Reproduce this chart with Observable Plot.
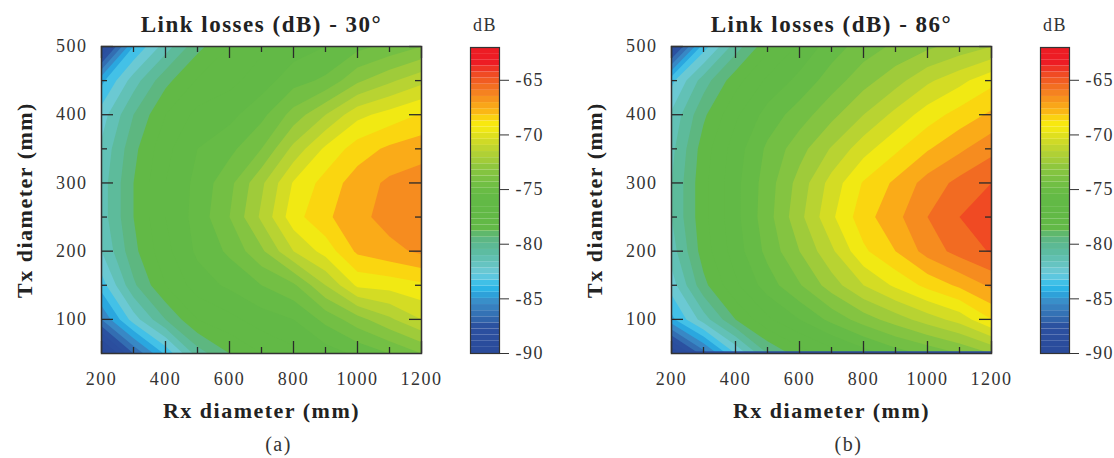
<!DOCTYPE html>
<html><head><meta charset="utf-8">
<script src="https://cdn.jsdelivr.net/npm/d3@7"></script>
<script src="https://cdn.jsdelivr.net/npm/@observablehq/plot@0.6"></script>
<style>
body{margin:0;background:#fff;}
#root{position:relative;width:1114px;height:458px;overflow:hidden;background:#fff;}
#root svg{position:absolute;top:0;overflow:visible;}
</style></head><body><div id="root"></div>
<script>
// Grid axes
const rx = [200, 300, 400, 500, 600, 700, 800, 900, 1000, 1100, 1200];   // Rx diameter (mm)
const tx = [50, 100, 150, 200, 250, 300, 350, 400, 450, 500];            // Tx diameter (mm)

// Link losses (dB), one list per Rx diameter, Tx from 50 to 500 mm — panel (a) 30°
const lossA = [
  [-91, -86, -83.5, -82, -81.5, -81.5, -81.8, -82.5, -84.3, -89.5],
  [-87, -82.5, -80.2, -79.3, -79, -79, -79.3, -80, -81.5, -84],
  [-83.8, -80, -78, -77.3, -77, -77, -77.3, -78, -79.3, -81.5],
  [-80.5, -78, -76.5, -75.8, -75.6, -75.7, -76, -76.7, -77.9, -79.3],
  [-79, -77.3, -75.8, -74.8, -74, -74.3, -75.3, -76.3, -77.3, -78],
  [-78, -76.5, -75, -73.2, -71.8, -72.2, -74, -75.3, -76.5, -77.2],
  [-77.3, -76, -74.2, -71, -69.4, -69.9, -71.7, -73.6, -75.4, -76.5],
  [-76.5, -74.7, -72, -69.6, -68.2, -68.6, -69.8, -72, -74.8, -76],
  [-75.8, -73.4, -69.8, -67.8, -67.3, -67.5, -68.5, -70.3, -73.2, -75.3],
  [-75, -72.2, -69.6, -67.3, -66.6, -66.8, -67.8, -69.6, -72.2, -74.7],
  [-74, -71, -69.2, -66.8, -66.2, -66.5, -67.4, -68.9, -71.3, -74]
];
// panel (b) 86°
const lossB = [
  [-90, -84.3, -82.5, -81.5, -81, -81, -81.3, -81.8, -83.3, -89],
  [-86.5, -81.5, -79.3, -78.5, -78.3, -78.3, -78.5, -79.2, -80.5, -83.5],
  [-83, -79, -77.2, -76.5, -76.3, -76.3, -76.5, -77.2, -78.4, -80.5],
  [-80, -77.2, -75.5, -74.7, -74.4, -74.5, -74.8, -75.6, -76.8, -78.3],
  [-78.5, -76, -74.1, -73, -72.3, -72.6, -73.4, -74.5, -75.7, -76.8],
  [-77.5, -74.7, -72.5, -71.2, -70.2, -70.6, -71.9, -73.3, -74.5, -75.5],
  [-76.5, -73.5, -71, -69.2, -68.4, -68.9, -70.4, -72, -73.4, -74.5],
  [-75.5, -72.5, -69.8, -68, -67.3, -67.8, -69.2, -70.7, -72.4, -73.8],
  [-74.8, -71.5, -68.7, -66.6, -66, -66.6, -68.1, -69.5, -71.2, -73.2],
  [-74, -70.6, -67.8, -65.6, -65, -65.7, -67.2, -68.6, -70.3, -72.6],
  [-73, -69, -66.8, -64.9, -64.3, -65, -66.3, -67.8, -69.3, -72]
];

const titles = ["Link losses (dB) - 30°", "Link losses (dB) - 86°"];
const captions = ["(a)", "(b)"];
const xLabel = "Rx diameter (mm)";
const yLabel = "Tx diameter (mm)";
const cbLabel = "dB";

// tick labels
const xTickLabels = [200, 400, 600, 800, 1000, 1200];
const xMinorTicks = [300, 500, 700, 900, 1100];
const yTickLabels = [100, 200, 300, 400, 500];
const yMinorTicks = [150, 250, 350, 450];
const cbTicks = [-90, -85, -80, -75, -70, -65];
const cbDomain = [-90, -62];

// colour map (dB -> colour)
const stopVals = [-90, -87.5, -86.9, -86.3, -85.7, -85.1, -84.5, -83.9, -83.3, -82.7, -82.1, -81.5, -80.8, -80.0, -79.3, -78.5,
  -76.0, -75.0, -74.0, -73.0, -72.5, -71.7, -71.1, -70.5, -69.9, -69.3, -68.7, -68.2, -67.6, -67.0, -66.4, -65.8, -65.2, -64.6, -64.0, -63.4, -62];
const stopColors = ["#2a4a9a", "#2b51a0", "#3065ab", "#3473b6", "#3783c1", "#3992cc", "#2aa7df", "#2dbbea", "#4ec4e5", "#6ccad9", "#68c6c8", "#62c1b6", "#5dbca2", "#5cb88f", "#5eb77a", "#62b946",
  "#62b946", "#6abd45", "#7bc142", "#8cc63f", "#9fcb3a", "#b2d134", "#c3d62d", "#d4dc24", "#e6e21b", "#f7ec0f", "#f8e30f", "#fcc212", "#faae17", "#f89c1c", "#f6891f", "#f37521", "#f16022", "#f04e23", "#ee3524", "#ed1c24", "#ed1c24"];

// colour bar: colour at each value
const cbColor = {type: "linear", domain: stopVals, range: stopColors, interpolate: "rgb", clamp: true};
// contour bands are filled by their lower threshold: show the colour of the band's middle
const contourStep = 1;
const contourColor = {...cbColor, domain: stopVals.map(v => v - contourStep / 2)};
const thresholds = d3.range(-93, -61, contourStep);
const cbBands = d3.range(50).map(i => {
  const step = (cbDomain[1] - cbDomain[0]) / 50;
  const lo = cbDomain[0] + i * step, hi = lo + step;
  return {lo, hi, mid: (lo + hi) / 2};
});

const STYLE = "font-family:'Liberation Serif',serif;font-size:18px;letter-spacing:1.5px;color:#222;background:transparent;";
const ML = 101, MR = 19, MT = 46, MB = 105, PW = 440, PH = 458;
const FW = PW - ML - MR, FH = PH - MT - MB;
const tickStyle = {stroke: "#2a2a2a", strokeWidth: 1.3};

function panel(cols, title, caption, bottomLine) {
  const values = [];
  tx.forEach((t, j) => rx.forEach((r, i) => values.push(cols[i][j])));
  const dx = rx[1] - rx[0], dy = tx[1] - tx[0];
  const marks = [
    Plot.contour(values, {
      width: rx.length, height: tx.length,
      x1: rx[0] - dx / 2, x2: rx[rx.length - 1] + dx / 2,
      y1: tx[0] - dy / 2, y2: tx[tx.length - 1] + dy / 2,
      fill: Plot.identity, thresholds, clip: true
    })
  ];
  if (bottomLine) marks.push(Plot.ruleY([tx[0]], {stroke: "#2b4c9e", strokeWidth: 2.5, dy: -1}));
  marks.push(
    Plot.tickX(xTickLabels, {x: d => d, insetTop: FH - 12, ...tickStyle}),
    Plot.tickX(xTickLabels, {x: d => d, insetBottom: FH - 12, ...tickStyle}),
    Plot.tickX(xMinorTicks, {x: d => d, insetTop: FH - 6, ...tickStyle}),
    Plot.tickX(xMinorTicks, {x: d => d, insetBottom: FH - 6, ...tickStyle}),
    Plot.tickY(yTickLabels, {y: d => d, insetRight: FW - 12, ...tickStyle}),
    Plot.tickY(yTickLabels, {y: d => d, insetLeft: FW - 12, ...tickStyle}),
    Plot.tickY(yMinorTicks, {y: d => d, insetRight: FW - 6, ...tickStyle}),
    Plot.tickY(yMinorTicks, {y: d => d, insetLeft: FW - 6, ...tickStyle}),
    Plot.frame({stroke: "#333", strokeWidth: 1.5}),
    Plot.axisX(xTickLabels, {anchor: "bottom", tickSize: 0, tickPadding: 19, label: null, tickFormat: d => String(d), fill: "#333"}),
    Plot.axisY(yTickLabels, {anchor: "left", tickSize: 0, tickPadding: 14, label: null, tickFormat: d => String(d), fill: "#333"}),
    Plot.text([title], {frameAnchor: "top", dy: -22, lineAnchor: "middle", textAnchor: "middle", fontWeight: "bold", fontSize: 23, fill: "#222"}),
    Plot.text([yLabel], {frameAnchor: "left", dx: -77, rotate: -90, lineAnchor: "middle", textAnchor: "middle", fontWeight: "bold", fontSize: 22, fill: "#222"}),
    Plot.text([xLabel], {frameAnchor: "bottom", dy: 57, lineAnchor: "middle", textAnchor: "middle", fontWeight: "bold", fontSize: 22, fill: "#222"}),
    Plot.text([caption], {frameAnchor: "bottom", dx: 17, dy: 91, lineAnchor: "middle", textAnchor: "middle", fontSize: 20, fill: "#333"})
  );
  return Plot.plot({
    width: PW, height: PH, marginLeft: ML, marginRight: MR, marginTop: MT, marginBottom: MB,
    style: STYLE,
    x: {domain: [rx[0], rx[rx.length - 1]]},
    y: {domain: [tx[0], tx[tx.length - 1]]},
    color: contourColor,
    marks
  });
}

function colorbar() {
  return Plot.plot({
    width: 120, height: PH, marginLeft: 30, marginRight: 61, marginTop: 47, marginBottom: MB,
    style: STYLE,
    y: {domain: cbDomain},
    color: cbColor,
    marks: [
      Plot.rect(cbBands, {y1: "lo", y2: "hi", fill: "mid"}),
      Plot.frame({stroke: "#333", strokeWidth: 1.2}),
      Plot.axisY(cbTicks, {anchor: "right", tickSize: 9, tickPadding: 7, label: null, tickFormat: d => String(d), stroke: "#333", fill: "#333"}),
      Plot.text([cbLabel], {frameAnchor: "top", dy: -22, lineAnchor: "middle", textAnchor: "middle", fontSize: 18, fill: "#333"})
    ]
  });
}

const root = document.getElementById("root");
const offsets = [0, 570];
[lossA, lossB].forEach((cols, k) => {
  const p = panel(cols, titles[k], captions[k], k === 1);
  p.style.left = offsets[k] + "px";
  root.appendChild(p);
  const c = colorbar();
  c.style.left = (offsets[k] + 440) + "px";
  root.appendChild(c);
});
</script>
</body></html>
